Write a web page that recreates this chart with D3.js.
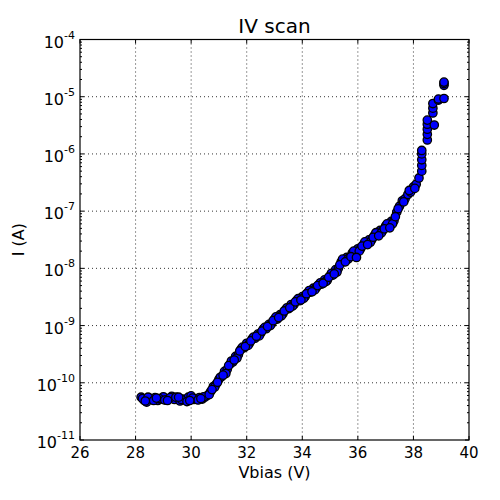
<!DOCTYPE html>
<html>
<head>
<meta charset="utf-8">
<script src="https://cdn.jsdelivr.net/npm/d3@7"></script>
<style>
  html, body { margin: 0; padding: 0; background: #fff; }
  svg { display: block; font-family: "DejaVu Sans", sans-serif; }
</style>
</head>
<body>
<div id="chart"></div>
<script>
// IV scan, bias voltage vs leakage current (log scale)

// first sweep
const voltage = [
  28.2, 28.3, 28.4, 28.5, 28.6, 28.7, 28.8, 28.9, 29.0, 29.1,
  29.2, 29.3, 29.4, 29.5, 29.6, 29.7, 29.8, 29.9, 30.0, 30.1,
  30.2, 30.3, 30.4, 30.5, 30.6, 30.7, 30.8, 30.9, 31.0, 31.1,
  31.2, 31.3, 31.4, 31.5, 31.6, 31.7, 31.8, 31.9, 32.0, 32.1,
  32.2, 32.3, 32.4, 32.5, 32.6, 32.7, 32.8, 32.9, 33.0, 33.1,
  33.2, 33.3, 33.4, 33.5, 33.6, 33.7, 33.8, 33.9, 34.0, 34.1,
  34.2, 34.3, 34.4, 34.5, 34.6, 34.7, 34.8, 34.9, 35.0, 35.1,
  35.2, 35.3, 35.4, 35.5, 35.6, 35.7, 35.8, 35.9, 36.0, 36.1,
  36.2, 36.3, 36.4, 36.5, 36.6, 36.7, 36.8, 36.9, 37.0, 37.1,
  37.2, 37.3, 37.4, 37.5, 37.6, 37.7, 37.8, 37.9, 38.0, 38.1,
  38.2,
  38.3, 38.3, 38.3, 38.3, 38.3,
  38.5, 38.5, 38.5, 38.5, 38.5,
  38.7, 38.7, 38.7, 38.75,
  38.9, 38.9,
  39.1, 39.1, 39.1, 39.1
];

const current = [
  5.6e-11, 5.0e-11, 4.6e-11, 5.4e-11, 5.1e-11, 5.5e-11, 4.9e-11, 5.2e-11, 5.7e-11, 5.0e-11,
  5.3e-11, 5.8e-11, 5.1e-11, 5.5e-11, 4.8e-11, 5.2e-11, 5.0e-11, 5.6e-11, 5.9e-11, 5.1e-11,
  5.3e-11, 5.5e-11, 5.2e-11, 5.6e-11, 6.1e-11, 7.0e-11, 8.6e-11, 9.5e-11, 1.15e-10, 1.28e-10,
  1.58e-10, 1.72e-10, 2.12e-10, 2.3e-10, 2.9e-10, 3.1e-10, 3.9e-10, 4.1e-10, 4.9e-10, 4.9e-10,
  5.9e-10, 6.0e-10, 7.1e-10, 7.3e-10, 8.7e-10, 8.8e-10, 1.05e-9, 1.08e-9, 1.29e-9, 1.30e-9,
  1.55e-9, 1.60e-9, 1.90e-9, 1.97e-9, 2.33e-9, 2.32e-9, 2.74e-9, 2.72e-9, 3.2e-9, 3.2e-9,
  3.75e-9, 3.85e-9, 4.5e-9, 4.55e-9, 5.2e-9, 5.3e-9, 6.3e-9, 6.2e-9, 7.4e-9, 7.6e-9,
  9.5e-9, 1.0e-8, 1.29e-8, 1.32e-8, 1.55e-8, 1.56e-8, 1.86e-8, 1.82e-8, 2.2e-8, 2.2e-8,
  2.6e-8, 2.65e-8, 3.15e-8, 3.15e-8, 3.8e-8, 3.85e-8, 4.6e-8, 4.6e-8, 5.5e-8, 5.55e-8,
  6.6e-8, 6.8e-8, 9.6e-8, 1.22e-7, 1.52e-7, 1.65e-7, 1.95e-7, 2.15e-7, 2.65e-7, 2.95e-7,
  3.8e-7,
  5.0e-7, 6.3e-7, 7.9e-7, 1.0e-6, 1.15e-6,
  1.75e-6, 2.2e-6, 2.7e-6, 3.3e-6, 3.9e-6,
  5.2e-6, 6.3e-6, 7.6e-6, 3.2e-6,
  8.7e-6, 9.1e-6,
  9.3e-6, 1.58e-5, 1.7e-5, 1.8e-5
];

// second sweep
const voltage2 = [
  28.25, 28.45, 28.65, 28.85, 29.05, 29.25, 29.45, 29.65, 29.85, 30.05,
  30.25, 30.45, 30.65, 30.85, 31.05, 31.25, 31.45, 31.65, 31.85, 32.05,
  32.25, 32.45, 32.65, 32.85, 33.05, 33.25, 33.45, 33.65, 33.85, 34.05,
  34.25, 34.45, 34.65, 34.85, 35.05, 35.25, 35.45, 35.65, 35.85, 36.05,
  36.25, 36.45, 36.65, 36.85, 37.05, 37.25, 37.45, 37.65, 37.85, 38.05
];

const current2 = [
  5.3e-11, 5.6e-11, 4.9e-11, 5.3e-11, 5.0e-11, 5.5e-11, 5.6e-11, 5.1e-11, 4.7e-11, 5.4e-11,
  5.0e-11, 5.7e-11, 6.2e-11, 8.4e-11, 1.25e-10, 1.45e-10, 2.4e-10, 2.7e-10, 4.2e-10, 4.5e-10,
  6.3e-10, 6.6e-10, 9.3e-10, 1.0e-9, 1.42e-9, 1.48e-9, 2.05e-9, 2.2e-9, 2.95e-9, 3.0e-9,
  4.1e-9, 4.2e-9, 5.6e-9, 5.9e-9, 8.2e-9, 8.6e-9, 1.45e-8, 1.45e-8, 2.0e-8, 2.0e-8,
  2.9e-8, 2.85e-8, 4.2e-8, 4.2e-8, 6.0e-8, 6.0e-8, 1.1e-7, 1.45e-7, 2.3e-7, 2.5e-7
];

// third sweep
const voltage3 = [
  28.35, 28.75, 29.15, 29.55, 29.95, 30.35,
  30.75, 30.95, 31.15, 31.35, 31.55, 31.75, 31.95, 32.15, 32.35, 32.55,
  32.75, 32.95, 33.15, 33.35, 33.55, 33.75, 33.95, 34.15, 34.35, 34.55,
  34.75, 34.95, 35.15, 35.35, 35.55, 35.75, 35.95, 36.15, 36.35, 36.55,
  36.75, 36.95, 37.15, 37.35
];

const current3 = [
  4.8e-11, 5.4e-11, 4.9e-11, 5.6e-11, 4.9e-11, 5.3e-11,
  7.6e-11, 1.02e-10, 1.36e-10, 2.0e-10, 2.5e-10, 3.6e-10, 4.3e-10, 5.4e-10, 6.5e-10, 8.0e-10,
  9.6e-10, 1.22e-9, 1.38e-9, 1.8e-9, 2.05e-9, 2.6e-9, 2.8e-9, 3.6e-9, 3.9e-9, 5.0e-9,
  5.5e-9, 7.0e-9, 8.0e-9, 1.15e-8, 1.3e-8, 1.6e-8, 1.55e-8, 2.45e-8, 2.6e-8, 3.5e-8,
  3.7e-8, 4.9e-8, 5.1e-8, 8.0e-8
];

const xTicks = [26, 28, 30, 32, 34, 36, 38, 40];
const yTickExponents = [-11, -10, -9, -8, -7, -6, -5, -4];

const width = 500, height = 500;
const plot = { left: 80, right: 469, top: 39.5, bottom: 440 };

const svg = d3.select("#chart").append("svg")
  .attr("width", width)
  .attr("height", height);

const x = d3.scaleLinear().domain([26, 40]).range([plot.left, plot.right]);
const y = d3.scaleLog().domain([1e-11, 1e-4]).range([plot.bottom, plot.top]);

// grid (dotted, major ticks only)
const grid = svg.append("g").attr("stroke", "#000").attr("stroke-width", 0.8)
  .attr("stroke-dasharray", "1,3");
xTicks.slice(1, -1).forEach(t => {
  grid.append("line")
    .attr("x1", x(t)).attr("x2", x(t))
    .attr("y1", plot.top).attr("y2", plot.bottom);
});
yTickExponents.slice(1, -1).forEach(e => {
  grid.append("line")
    .attr("x1", plot.left).attr("x2", plot.right)
    .attr("y1", y(Math.pow(10, e))).attr("y2", y(Math.pow(10, e)));
});

// data points, all sweeps in one scatter
const toPoints = (vs, is) => vs.map((v, i) => ({ v: v, i: is[i] }));
const points = toPoints(voltage, current)
  .concat(toPoints(voltage2, current2))
  .concat(toPoints(voltage3, current3));
svg.append("g").selectAll("circle")
  .data(points)
  .join("circle")
  .attr("cx", d => x(d.v))
  .attr("cy", d => y(d.i))
  .attr("r", 4.2)
  .attr("fill", "#0000ff")
  .attr("stroke", "#000")
  .attr("stroke-width", 1.3);

// ticks, inside on all four sides
const ticks = svg.append("g").attr("stroke", "#000").attr("stroke-width", 1);
xTicks.forEach(t => {
  ticks.append("line").attr("x1", x(t)).attr("x2", x(t))
    .attr("y1", plot.bottom).attr("y2", plot.bottom - 4);
  ticks.append("line").attr("x1", x(t)).attr("x2", x(t))
    .attr("y1", plot.top).attr("y2", plot.top + 4);
});
yTickExponents.forEach(e => {
  const yy = y(Math.pow(10, e));
  ticks.append("line").attr("x1", plot.left).attr("x2", plot.left + 4)
    .attr("y1", yy).attr("y2", yy);
  ticks.append("line").attr("x1", plot.right).attr("x2", plot.right - 4)
    .attr("y1", yy).attr("y2", yy);
  if (e < -4) {
    for (let k = 2; k <= 9; k++) {
      const ym = y(k * Math.pow(10, e));
      ticks.append("line").attr("x1", plot.left).attr("x2", plot.left + 2)
        .attr("y1", ym).attr("y2", ym);
      ticks.append("line").attr("x1", plot.right).attr("x2", plot.right - 2)
        .attr("y1", ym).attr("y2", ym);
    }
  }
});

// frame
svg.append("rect")
  .attr("x", plot.left).attr("y", plot.top)
  .attr("width", plot.right - plot.left)
  .attr("height", plot.bottom - plot.top)
  .attr("fill", "none")
  .attr("stroke", "#000")
  .attr("stroke-width", 1.2);

// x tick labels
svg.append("g").selectAll("text")
  .data(xTicks)
  .join("text")
  .attr("x", d => x(d))
  .attr("y", plot.bottom + 18)
  .attr("text-anchor", "middle")
  .attr("font-size", 15)
  .attr("fill", "#000")
  .text(d => d);

// y tick labels 10^e
yTickExponents.forEach(e => {
  const t = svg.append("text")
    .attr("x", 75)
    .attr("y", y(Math.pow(10, e)) + 8)
    .attr("text-anchor", "end")
    .attr("fill", "#000")
    .attr("font-size", 16);
  t.append("tspan").text("10");
  t.append("tspan").attr("font-size", 11).attr("dy", -9).text(String(e));
});

// titles
svg.append("text")
  .attr("x", (plot.left + plot.right) / 2)
  .attr("y", 33)
  .attr("text-anchor", "middle")
  .attr("font-size", 20)
  .attr("fill", "#000")
  .text("IV scan");

svg.append("text")
  .attr("x", (plot.left + plot.right) / 2)
  .attr("y", 478)
  .attr("text-anchor", "middle")
  .attr("font-size", 16)
  .attr("fill", "#000")
  .text("Vbias (V)");

svg.append("text")
  .attr("transform", `translate(24, ${(plot.top + plot.bottom) / 2}) rotate(-90)`)
  .attr("text-anchor", "middle")
  .attr("font-size", 16)
  .attr("fill", "#000")
  .text("I (A)");
</script>
</body>
</html>
